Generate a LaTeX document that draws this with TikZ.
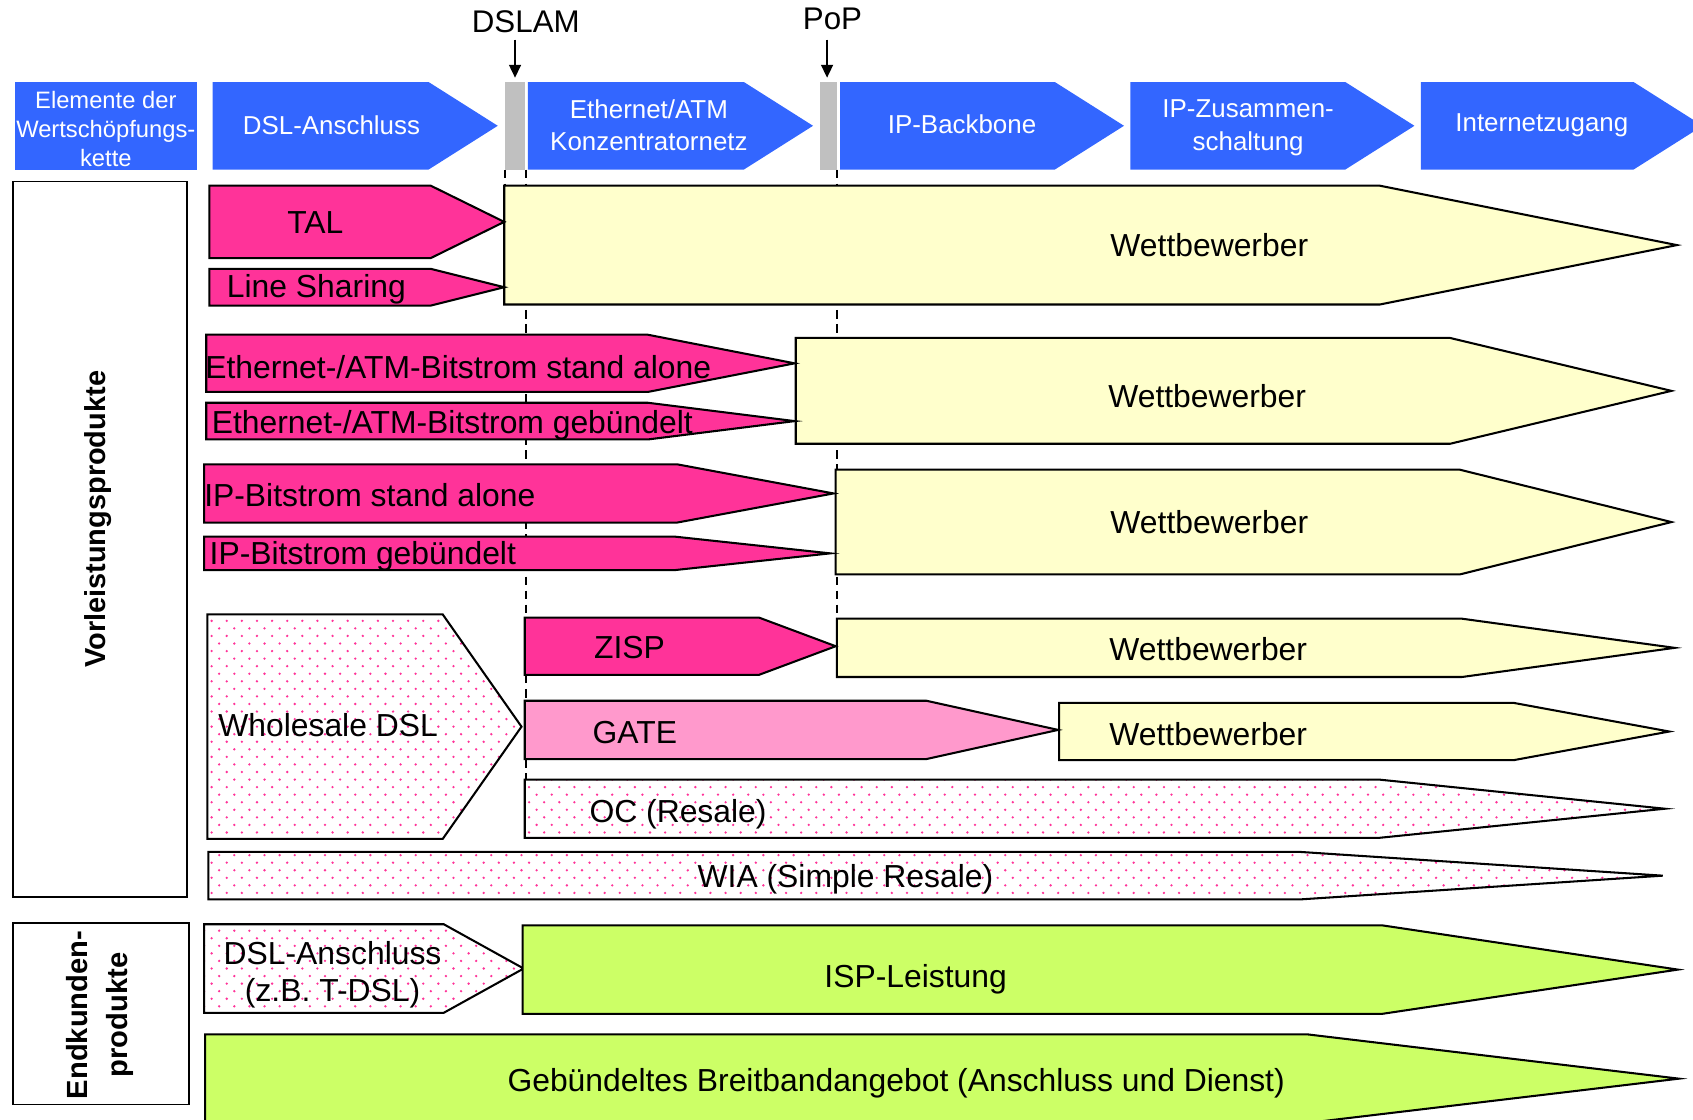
\documentclass[tikz,border=0pt]{standalone}
\usepackage{fontspec}
\setmainfont{Liberation Sans}
\usetikzlibrary{patterns,arrows.meta}
\definecolor{hdrblue}{HTML}{3366FF}
\definecolor{bargray}{HTML}{C0C0C0}
\definecolor{pinkA}{HTML}{FF3399}
\definecolor{pinkB}{HTML}{FF99CC}
\definecolor{yelC}{HTML}{FFFFCC}
\definecolor{grnC}{HTML}{CCFF66}
\definecolor{dotpink}{HTML}{FF3399}
\pgfdeclarepatternformonly{pinkdots}{\pgfqpoint{-1.5pt}{-1.5pt}}{\pgfqpoint{8.5pt}{8.5pt}}{\pgfqpoint{14pt}{14pt}}{%
  \pgfpathcircle{\pgfqpoint{0pt}{0pt}}{1.2pt}%
  \pgfpathcircle{\pgfqpoint{7pt}{7pt}}{1.2pt}%
  \pgfusepath{fill}}
% #1 style, #2 x left, #3 y top, #4 y bottom, #5 x flat end, #6 x tip
\newcommand{\pent}[6]{\path[#1] (#2,#3) -- (#5,#3) -- (#6,{(#3+#4)/2}) -- (#5,#4) -- (#2,#4) -- cycle;}
\tikzset{
  outl/.style={draw=black, line width=1.9pt},
  pinka/.style={outl, fill=pinkA},
  pinkb/.style={outl, fill=pinkB},
  yel/.style={outl, fill=yelC},
  grn/.style={outl, fill=grnC},
  dotbox/.style={outl, preaction={fill=white}, pattern=pinkdots, pattern color=dotpink},
  hdr/.style={fill=hdrblue},
  graybar/.style={fill=bargray},
  frame/.style={draw=black, line width=1.6pt, fill=white},
  lbl/.style={inner sep=0pt, font=\fontsize{29.5}{34}\selectfont, text height=21pt, text depth=0pt},
  mlbl/.style={inner sep=0pt, font=\fontsize{29.5}{34}\selectfont, align=center},
  hlbl/.style={inner sep=0pt, text=white, font=\fontsize{24}{30}\selectfont, align=center},
  toplbl/.style={inner sep=0pt, font=\fontsize{29}{34}\selectfont, text height=21pt, text depth=0pt},
  dashline/.style={line width=1.9pt, dash pattern=on 8pt off 5pt},
  ptr/.style={line width=1.8pt, -{Triangle[length=12pt,width=11pt]}},
}
\begin{document}
\begin{tikzpicture}[x=1pt,y=-1pt]
\useasboundingbox (0,0) rectangle (1568,1037);
\clip (0,0) rectangle (1568,1037);

% dashed guide lines
\draw[dashline] (468,157) -- (468,172);
\draw[dashline] (487,157) -- (487,722);
\draw[dashline] (775,157) -- (775,573);

% header row
\fill[hdr] (14,76) rectangle (182,157);
\pent{hdr}{197}{76}{157}{397}{461}
\fill[graybar] (468,76) rectangle (486,157);
\pent{hdr}{489}{76}{157}{689}{753}
\fill[graybar] (759,76) rectangle (775,157);
\pent{hdr}{778}{76}{157}{977}{1041}
\pent{hdr}{1047}{76}{157}{1246}{1310}
\pent{hdr}{1316}{76}{157}{1513}{1577}

\node[hlbl, font=\fontsize{22}{26.5}\selectfont] (h0) at (98,119.5) {Elemente der\\Wertschöpfungs-\\kette};
\node[hlbl] (h1) at (307,116) {DSL-Anschluss};
\node[hlbl] (h2) at (601,116) {Ethernet/ATM\\Konzentratornetz};
\node[hlbl] (h3) at (891,115) {IP-Backbone};
\node[hlbl] (h4) at (1156,118.5) {IP-Zusammen-\\schaltung};
\node[hlbl] (h5) at (1428,116) {Internetzugang};

% top labels and pointers
\node[toplbl] (dslam) at (487,20) {DSLAM};
\coordinate (dslamtip) at (477,72);
\draw[ptr] ([yshift=-6pt]dslam.south -| dslamtip) -- (dslamtip);
\node[toplbl] (pop) at (771,17) {PoP};
\coordinate (poptip) at (766,72);
\draw[ptr] ([yshift=-9pt]pop.south -| poptip) -- (poptip);

% left frames
\draw[frame] (12,168) rectangle (173,831);
\draw[frame] (12,855) rectangle (175,1023);
\node[rotate=90, inner sep=0pt, font=\bfseries\fontsize{26.8}{30}\selectfont] (vl) at (91,481) {Vorleistungsprodukte};
\node[rotate=90, inner sep=0pt, align=center, font=\bfseries\fontsize{27}{37}\selectfont] (ek) at (93,940) {Endkunden-\\produkte};

% row 1
\pent{yel}{467}{172}{282}{1278}{1553}
\pent{pinka}{194}{172}{239}{399}{467}
\pent{pinka}{194}{249}{283}{399}{467}
\node[lbl] (tal) at (292,206) {TAL};
\node[lbl, anchor=west] (ls) at (210,265) {Line Sharing};
\node[lbl] (w1) at (1120,227) {Wettbewerber};

% row 2
\pent{yel}{737}{313}{411}{1343}{1548}
\pent{pinka}{191}{310}{363}{600}{736}
\pent{pinka}{191}{373}{407}{600}{736}
\node[lbl, anchor=west] (eth1) at (190,340) {Ethernet-/ATM-Bitstrom stand alone};
\node[lbl, anchor=west] (eth2) at (196,391) {Ethernet-/ATM-Bitstrom gebündelt};
\node[lbl] (w2) at (1118,367) {Wettbewerber};

% row 3
\pent{yel}{774}{435}{532}{1352}{1548}
\pent{pinka}{189}{430}{484}{627}{772}
\pent{pinka}{189}{497}{528}{625}{769}
\node[lbl, anchor=west] (ip1) at (189,459) {IP-Bitstrom stand alone};
\node[lbl, anchor=west] (ip2) at (194,512) {IP-Bitstrom gebündelt};
\node[lbl] (w3) at (1120,484) {Wettbewerber};

% row 4
\pent{dotbox}{192}{569}{777}{410}{483}
\pent{yel}{775}{573}{627}{1354}{1551}
\pent{pinka}{486}{572}{625}{703}{774}
\pent{yel}{981}{651}{704}{1402}{1546}
\pent{pinkb}{486}{649}{703}{858}{980}
\pent{dotbox}{486}{722}{776}{1277}{1542}
\pent{dotbox}{193}{789}{833}{1204}{1540}
\node[lbl, anchor=west] (wsd) at (202,672) {Wholesale DSL};
\node[lbl] (zisp) at (583,599) {ZISP};
\node[lbl] (w4) at (1119,601) {Wettbewerber};
\node[lbl] (gate) at (588,678) {GATE};
\node[lbl] (w5) at (1119,680) {Wettbewerber};
\node[lbl] (oc) at (628,751) {OC (Resale)};
\node[lbl] (wia) at (783,811) {WIA (Simple Resale)};

% end-customer products
\pent{dotbox}{189}{856}{938}{411}{485}
\pent{grn}{484}{857}{939}{1280}{1554}
\pent{grn}{190}{958}{1040}{1211}{1555}
\node[mlbl] (dsl) at (308,903) {DSL-Anschluss\\(z.B. T-DSL)};
\node[lbl] (isp) at (848,904) {ISP-Leistung};
\node[lbl] (geb) at (830,1000) {Gebündeltes Breitbandangebot (Anschluss und Dienst)};
\end{tikzpicture}
\end{document}
